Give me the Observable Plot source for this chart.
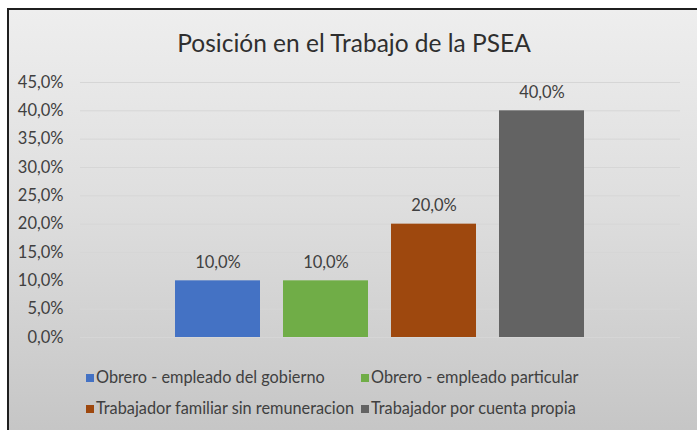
<!DOCTYPE html>
<html>
<head>
<meta charset="utf-8">
<script src="https://cdn.jsdelivr.net/npm/d3@7"></script>
<script src="https://cdn.jsdelivr.net/npm/@observablehq/plot@0.6"></script>
<style>
  html, body { margin: 0; padding: 0; }
  body { width: 697px; height: 430px; overflow: hidden; position: relative; font-family: Lato, "Open Sans", sans-serif; }
  #frame { position: absolute; left: 7px; top: 8px; width: 700px; height: 440px; box-sizing: border-box;
           border: 2px solid #1f1f1f; background: linear-gradient(to bottom, #eeeeee 0%, #dedede 45%, #c4c4c4 100%); }
  #title { position: absolute; left: 0; width: 708px; top: 28px; text-align: center; font-size: 24.5px; color: #2f2f2f; white-space: nowrap; }
  #chart { position: absolute; left: 0; top: 0; }
  .leg { position: absolute; font-size: 16.3px; color: #404040; white-space: nowrap; line-height: 20px; }
  .leg span.sw { display: inline-block; width: 8px; height: 8px; margin-right: 2px; vertical-align: 1px; }
</style>
</head>
<body>
<div id="frame"></div>
<div id="title">Posición en el Trabajo de la PSEA</div>
<div id="chart"></div>
<div id="legend"></div>
<script>
const series = ["Obrero - empleado del gobierno", "Obrero - empleado particular", "Trabajador familiar sin remuneracion", "Trabajador por cuenta propia"];
const values = [0.10, 0.10, 0.20, 0.40];
const colors = ["#4472C4", "#70AD47", "#9E480E", "#636363"];
const yTicks = [0, 0.05, 0.10, 0.15, 0.20, 0.25, 0.30, 0.35, 0.40, 0.45];

const data = series.map((s, i) => ({serie: s, valor: values[i]}));
const fmt = d => (d * 100).toFixed(1).replace(".", ",") + "%";

const chart = Plot.plot({
  width: 697,
  height: 360,
  marginTop: 82,
  marginBottom: 23,
  marginLeft: 80,
  marginRight: 17,
  style: {background: "transparent", fontFamily: "Lato, 'Open Sans', sans-serif", overflow: "visible"},
  x: {domain: series, paddingInner: 0.21, paddingOuter: 0.86, axis: null},
  y: {domain: [0, 0.45], axis: null},
  color: {domain: series, range: colors},
  marks: [
    Plot.gridY({ticks: yTicks, stroke: "#d6d6d6", strokeOpacity: 1}),
    Plot.axisY({ticks: yTicks, tickSize: 0, tickPadding: 17, tickFormat: fmt, fontSize: 16.5, fill: "#404040", label: null}),
    Plot.barY(data, {x: "serie", y: "valor", fill: "serie"}),
    Plot.text(data, {x: "serie", y: "valor", text: d => fmt(d.valor), dy: -18, fontSize: 16.5, fill: "#404040"})
  ]
});
document.getElementById("chart").appendChild(chart);

const legend = document.getElementById("legend");
const legPos = [[86, 367], [361, 367], [86, 398], [361, 398]];
series.forEach((s, i) => {
  const el = document.createElement("div");
  el.className = "leg";
  el.style.left = legPos[i][0] + "px";
  el.style.top = legPos[i][1] + "px";
  el.innerHTML = `<span class="sw" style="background:${colors[i]}"></span>${s}`;
  legend.appendChild(el);
});
</script>
</body>
</html>
